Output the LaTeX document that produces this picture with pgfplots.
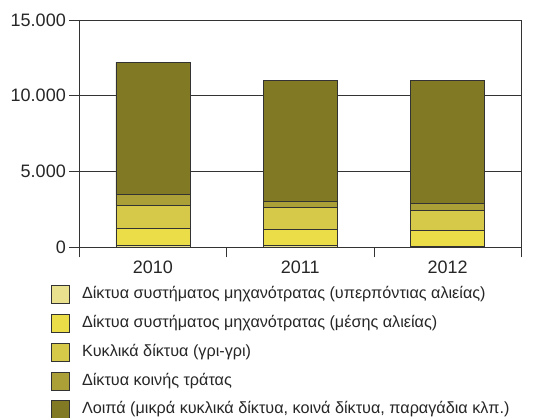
\documentclass[border=0pt]{standalone}
\usepackage{pgfplots}
\pgfplotsset{compat=1.18}
\usepackage{fontspec}
\setmainfont{Liberation Sans}
\definecolor{cA}{HTML}{E9E18E}
\definecolor{cB}{HTML}{EADD48}
\definecolor{cC}{HTML}{D6C849}
\definecolor{cD}{HTML}{ABA037}
\definecolor{cE}{HTML}{827925}
\definecolor{axc}{HTML}{333333}
\begin{document}
\begin{tikzpicture}[x=1bp,y=1bp]
\useasboundingbox (0,0) rectangle (536,417);
\begin{axis}[
  at={(79.3bp,169.7bp)}, anchor=south west,
  scale only axis, width=442bp, height=227.3bp,
  ybar stacked, bar width=74bp,
  xmin=0.5, xmax=3.5, ymin=0, ymax=15000,
  xtick={1,2,3}, xticklabels={2010,2011,2012},
  minor xtick={0.5,1.5,2.5,3.5},
  major x tick style={draw=none},
  minor tick length=10bp,
  ytick={0,5000,10000,15000},
  yticklabels={0,5.000,10.000,15.000},
  scaled y ticks=false,
  major tick length=10bp,
  tick align=outside, tick pos=left,
  ymajorgrids, grid style={axc, line width=0.9bp},
  axis line style={axc, line width=0.9bp},
  tick style={axc, line width=0.9bp},
  every tick label/.append style={font=\fontsize{18bp}{20bp}\selectfont, text=black!85},
  every axis plot/.append style={draw=axc, line width=0.8bp},
  clip=false,
  legend cell align=left,
  legend style={at={(axis description cs:-0.064,-0.166)}, anchor=north west,
    draw=none, fill=none, inner sep=0pt, row sep=10bp, column sep=12bp,
    nodes={inner sep=0pt, text height=12bp, text depth=4bp},
    font=\fontsize{16.2bp}{19bp}\selectfont, text=black!85},
  legend image code/.code={\draw[#1, draw=axc, line width=0.8bp] (0bp,-9bp) rectangle (18bp,9bp);},
]
\addplot[fill=cA] coordinates {(1,150) (2,150) (3,80)};
\addplot[fill=cB] coordinates {(1,1100) (2,1010) (3,1040)};
\addplot[fill=cC] coordinates {(1,1518) (2,1452) (3,1320)};
\addplot[fill=cD] coordinates {(1,746) (2,442) (3,462)};
\addplot[fill=cE] coordinates {(1,8692) (2,7944) (3,8096)};
\legend{Δίκτυα συστήματος μηχανότρατας (υπερπόντιας αλιείας),
Δίκτυα συστήματος μηχανότρατας (μέσης αλιείας),
Κυκλικά δίκτυα (γρι-γρι),
Δίκτυα κοινής τράτας,
{Λοιπά (μικρά κυκλικά δίκτυα, κοινά δίκτυα, παραγάδια κλπ.)}}
\end{axis}
\end{tikzpicture}
\end{document}
